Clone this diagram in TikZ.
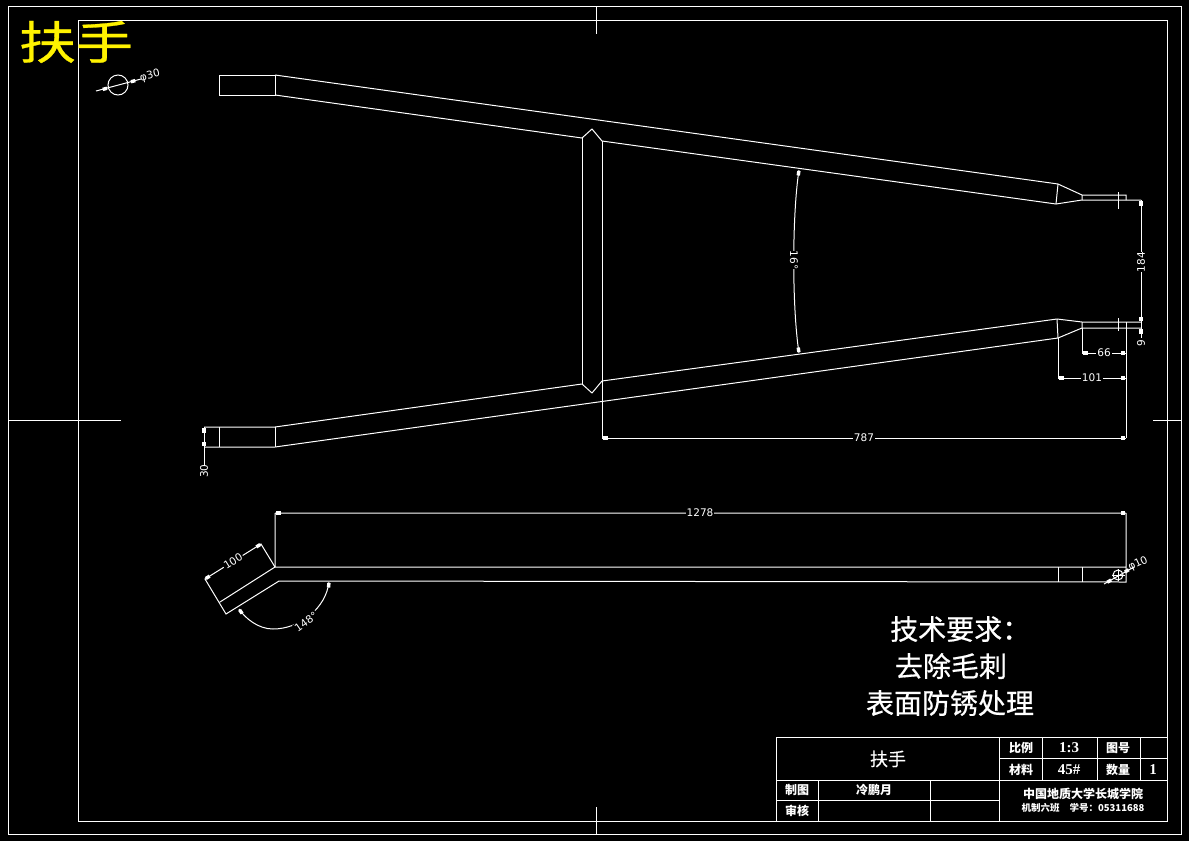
\documentclass[tikz,border=0pt]{standalone}
\usepackage{fontspec}
\setmainfont{Liberation Sans}
\newfontfamily\cjk{Noto Sans CJK SC}
\newfontfamily\cjkm[FakeBold=0.6]{Noto Sans CJK SC}
\newfontfamily\dimf{DejaVu Sans}
\newfontfamily\numf{Liberation Serif}
\newcommand{\blk}[3]{\fill[white,shift={(#1,#2)},rotate=#3,yscale=-1] (1,-1.7) rectangle (5.5,1.7);}
\tikzset{
  ln/.style={white,line width=1pt},
  fr/.style={white,line width=1pt},
  dimt/.style={white,inner sep=0pt,font=\dimf\fontsize{10.5}{10.5}\selectfont},
  tbl/.style={white,inner sep=0pt,font=\cjk\bfseries\fontsize{12}{12}\selectfont},
  tnum/.style={white,inner sep=0pt,font=\numf\bfseries\fontsize{15}{15}\selectfont},
  req/.style={white,inner sep=0pt,font=\cjkm\fontsize{28}{28}\selectfont},
}
\begin{document}
\begin{tikzpicture}[x=1pt,y=-1pt]
\fill[black] (0,0) rectangle (1189,841);
\useasboundingbox (0,0) rectangle (1189,841);
% frames
\draw[fr] (8,6) rectangle (1181,834);
\draw[fr] (78,20) rectangle (1167,821);
\draw[fr] (596,6)--(596,34) (596,807)--(596,834) (8,420)--(121,420) (1153,420)--(1181,420);
% top handle
\draw[ln] (219,75) rectangle (275,95);
\draw[ln] (275,75)--(1058,184)--(1082,195)--(1126,195)--(1126,200);
\draw[ln] (275,95)--(582,138)--(592,129)--(602,141)--(1056,204)--(1082,200)--(1141,200);
\draw[ln] (1058,184)--(1056,204) (1082,195)--(1082,200);
\draw[ln] (1118,192)--(1118,209);
% bottom handle
\draw[ln] (204,427)--(275,427)--(582,384)--(592,393)--(602,381)--(1057,319)--(1082,322)--(1141,322);
\draw[ln] (204,447)--(275,447)--(1058,338)--(1082,328)--(1141,328);
\draw[ln] (219,427)--(219,447) (275,427)--(275,447);
\draw[ln] (1057,319)--(1058,338) (1082,322)--(1082,328);
\draw[ln] (1118,318)--(1118,331);
% cross bar
\draw[ln] (582,138)--(582,384) (602,141)--(602,438);
% dims upper view
\draw[ln] (602,438)--(1126,438) (1126,322)--(1126,438);
\blk{602}{438}{0}\blk{1126}{438}{180}
\node[dimt,fill=black,inner xsep=1pt] (d787) at (864,438) {787};
\draw[ln] (1141,200)--(1141,338);
\blk{1141}{200}{-90}\blk{1141}{322}{90}\blk{1141}{328}{-90}
\node[dimt,fill=black,inner ysep=1pt,rotate=90] (d184) at (1141,262) {184};
\node[dimt,fill=black,rotate=90] (d9) at (1141,343) {9};
\draw[ln] (1082,328)--(1082,353)--(1126,353);
\blk{1082}{353}{0}\blk{1126}{353}{180}
\node[dimt,fill=black,inner xsep=1pt] (d66) at (1104,353) {66};
\draw[ln] (1058,338)--(1058,378)--(1126,378);
\blk{1058}{378}{0}\blk{1126}{378}{180}
\node[dimt,fill=black,inner xsep=1pt] (d101) at (1092,378) {101};
\draw[ln] (204,427)--(204,466);
\blk{204}{427}{-90}\blk{204}{447}{90}
\node[dimt,rotate=90] (d30) at (204,471) {30};
% angle
\draw[ln] (799,170) .. controls (792,215) and (792,308) .. (799,353);
\blk{799}{170}{-98}\blk{799}{353}{98}
\node[dimt,fill=black,inner ysep=2pt,rotate=-90] (d16) at (794,260) {16°};
% phi30
\draw[ln] (118,85) circle (10);
\draw[ln] (96,91)--(141,79);
\blk{108}{88}{195}\blk{130}{82}{15}
\node[dimt,rotate=15] (p30) at (150,76) {φ30};
% lower view
\draw[ln] (275,513)--(275,567)--(1126,567) (275,513)--(1126,513) (1126,513)--(1126,582)--(279,581);
\draw[ln] (1058,567)--(1058,582) (1082,567)--(1082,582);
\draw[ln] (275,567)--(220,602) (279,581)--(226,614)--(205,579)--(261,544)--(275,567);
\blk{275}{513}{0}\blk{1126}{513}{180}
\node[dimt,fill=black,inner xsep=1pt] (d1278) at (700,513) {1278};
\blk{205}{579}{32}\blk{261}{544}{212}
\node[dimt,fill=black,inner xsep=1pt,rotate=32] (d100) at (233,561) {100};
\draw[ln] (329,582) .. controls (326,608) and (300,629) .. (273,629) .. controls (258,629) and (245,618) .. (239,609);
\blk{329}{582}{-95}\blk{239}{609}{-55}
\node[dimt,fill=black,inner sep=1pt,rotate=35] (d148) at (306,622) {148°};
\draw[ln] (1104,584)--(1134,567);
\blk{1112}{579.5}{210}\blk{1124}{572.5}{30}
\draw[ln] (1118,575) circle (5);
\draw[ln] (1118,569)--(1118,581) (1112,575)--(1125,575);
\node[dimt,rotate=25] (p10) at (1138,564) {φ10};
% texts
\node[yellow,inner sep=0pt,font=\cjkm\fontsize{57}{57}\selectfont] (ttl) at (76,42) {\scalebox{1}[0.8]{扶手}};
\node[req,anchor=west] (r1) at (890,629) {技术要求：};
\node[req] (r2) at (951,666) {去除毛刺};
\node[req] (r3) at (950,703) {表面防锈处理};
% title block
\draw[fr] (776,737) rectangle (1167,821);
\draw[fr] (776,780)--(1167,780) (776,800)--(999,800) (999,758)--(1167,758);
\draw[fr] (818,780)--(818,821) (930,780)--(930,821) (999,737)--(999,821);
\draw[fr] (1042,737)--(1042,780) (1097,737)--(1097,780) (1140,737)--(1140,780);
\node[white,inner sep=0pt,font=\cjkm\fontsize{18}{18}\selectfont] (t0) at (888,759) {扶手};
\node[tbl] (t1) at (1021,748) {比例};
\node[tnum] (t2) at (1069,748) {1:3};
\node[tbl] (t3) at (1118,748) {图号};
\node[tbl] (t4) at (1021,770) {材料};
\node[tnum] (t5) at (1069,770) {45\#};
\node[tbl] (t6) at (1118,770) {数量};
\node[tnum] (t7) at (1153,770) {1};
\node[tbl] (t8) at (797,790) {制图};
\node[tbl] (t9) at (797,811) {审核};
\node[tbl] (t10) at (874,790) {冷鹏月};
\node[tbl] (t11) at (1083,794) {中国地质大学长城学院};
\node[white,inner sep=0pt,font=\cjk\bfseries\fontsize{9.5}{9.5}\selectfont] (t12) at (1083,808) {机制六班\hspace{10pt}学号：05311688};
\end{tikzpicture}
\end{document}
